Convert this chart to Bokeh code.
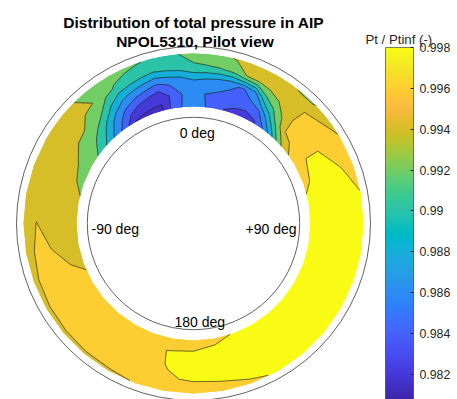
import numpy as np
from bokeh.plotting import figure
from bokeh.models import Range1d, ColorBar, LinearColorMapper, FixedTicker
from bokeh.core.properties import value
from bokeh.embed import file_html
from bokeh.resources import INLINE

# ---------------- data ----------------
# circumferential stations, degrees clockwise from top (pilot view)
theta_deg = [-180, -170, -160, -150, -140, -130, -120, -110, -100, -90, -80, -70,
             -60, -55, -50, -45, -40, -35, -30, -25, -20, -15, -10, -5,
             0, 5, 10, 15, 20, 25, 30, 35, 40, 45, 50, 55,
             60, 70, 80, 90, 100, 110, 120, 130, 140, 150, 160, 170]
# radial stations, r / R_casing
r_norm = [0.661, 0.734, 0.811, 0.887, 0.960]

pt_r1 = [0.99700, 0.99700, 0.99700, 0.99700, 0.99674, 0.99647, 0.99621, 0.99589, 0.99535, 0.99481, 0.99427, 0.99352,
         0.99257, 0.99210, 0.99077, 0.98889, 0.98691, 0.98489, 0.98200, 0.98150, 0.98138, 0.98182, 0.98467, 0.98623,
         0.98660, 0.98617, 0.98514, 0.98384, 0.98302, 0.98220, 0.98333, 0.98533, 0.98836, 0.99200, 0.99480, 0.99621,
         0.99674, 0.99779, 0.99817, 0.99838, 0.99859, 0.99880, 0.99865, 0.99851, 0.99836, 0.99822, 0.99807, 0.99767]
pt_r2 = [0.99820, 0.99806, 0.99777, 0.99738, 0.99700, 0.99669, 0.99638, 0.99606, 0.99566, 0.99523, 0.99481, 0.99438,
         0.99386, 0.99314, 0.99243, 0.99120, 0.98900, 0.98680, 0.98514, 0.98384, 0.98302, 0.98220, 0.98433, 0.98600,
         0.98660, 0.98600, 0.98569, 0.98538, 0.98526, 0.98541, 0.98583, 0.98920, 0.99286, 0.99600, 0.99667, 0.99733,
         0.99800, 0.99820, 0.99840, 0.99860, 0.99880, 0.99875, 0.99870, 0.99865, 0.99860, 0.99855, 0.99850, 0.99835]
pt_r3 = [0.99830, 0.99805, 0.99771, 0.99736, 0.99700, 0.99675, 0.99649, 0.99624, 0.99598, 0.99560, 0.99523, 0.99485,
         0.99447, 0.99428, 0.99409, 0.99338, 0.99213, 0.99000, 0.98833, 0.98740, 0.98665, 0.98590, 0.98645, 0.98700,
         0.98800, 0.98750, 0.98700, 0.98640, 0.98580, 0.98680, 0.99120, 0.99314, 0.99489, 0.99630, 0.99691, 0.99752,
         0.99802, 0.99822, 0.99841, 0.99861, 0.99880, 0.99900, 0.99890, 0.99880, 0.99870, 0.99860, 0.99850, 0.99840]
pt_r4 = [0.99810, 0.99791, 0.99700, 0.99690, 0.99680, 0.99670, 0.99660, 0.99641, 0.99621, 0.99602, 0.99569, 0.99534,
         0.99500, 0.99475, 0.99450, 0.99425, 0.99400, 0.99275, 0.99178, 0.99122, 0.99066, 0.99010, 0.99057, 0.99103,
         0.99165, 0.99180, 0.99192, 0.99240, 0.99408, 0.99446, 0.99485, 0.99523, 0.99562, 0.99600, 0.99648, 0.99695,
         0.99743, 0.99809, 0.99832, 0.99855, 0.99877, 0.99900, 0.99887, 0.99873, 0.99860, 0.99847, 0.99833, 0.99820]
pt_r5 = [0.99700, 0.99643, 0.99605, 0.99580, 0.99578, 0.99575, 0.99573, 0.99571, 0.99562, 0.99550, 0.99517, 0.99485,
         0.99452, 0.99436, 0.99420, 0.99403, 0.99366, 0.99323, 0.99280, 0.99247, 0.99213, 0.99181, 0.99150, 0.99200,
         0.99280, 0.99320, 0.99365, 0.99413, 0.99447, 0.99480, 0.99455, 0.99430, 0.99380, 0.99380, 0.99480, 0.99555,
         0.99622, 0.99733, 0.99809, 0.99833, 0.99856, 0.99880, 0.99863, 0.99845, 0.99828, 0.99810, 0.99783, 0.99740]

contour_levels = [0.982, 0.984, 0.986, 0.988, 0.990, 0.992, 0.994, 0.996, 0.998]
cbar_ticks = [0.982, 0.984, 0.986, 0.988, 0.99, 0.992, 0.994, 0.996, 0.998]
cbar_tick_labels = ["0.982", "0.984", "0.986", "0.988", "0.99", "0.992", "0.994", "0.996", "0.998"]
clim = (0.98077, 0.998)
hub_r = 0.6
casing_r = 1.0
title_lines = ["Distribution of total pressure in AIP", "NPOL5310, Pilot view"]
cbar_label = "Pt / Ptinf (-)"
angle_labels = ["0 deg", "-90 deg", "+90 deg", "180 deg"]

# ---------------- parula colormap ----------------
PARULA64 = [
    (0.2422, 0.1504, 0.6603), (0.2504, 0.1650, 0.7076), (0.2578, 0.1818, 0.7511), (0.2647, 0.1978, 0.7952),
    (0.2706, 0.2147, 0.8364), (0.2751, 0.2342, 0.8710), (0.2783, 0.2559, 0.8991), (0.2803, 0.2782, 0.9221),
    (0.2813, 0.3006, 0.9414), (0.2810, 0.3228, 0.9579), (0.2795, 0.3447, 0.9717), (0.2760, 0.3667, 0.9829),
    (0.2699, 0.3892, 0.9906), (0.2602, 0.4123, 0.9952), (0.2440, 0.4358, 0.9988), (0.2206, 0.4603, 0.9973),
    (0.1963, 0.4847, 0.9892), (0.1834, 0.5074, 0.9798), (0.1786, 0.5289, 0.9682), (0.1764, 0.5499, 0.9520),
    (0.1687, 0.5703, 0.9359), (0.1540, 0.5902, 0.9218), (0.1460, 0.6091, 0.9079), (0.1380, 0.6276, 0.8973),
    (0.1248, 0.6459, 0.8883), (0.1113, 0.6635, 0.8763), (0.0952, 0.6798, 0.8598), (0.0689, 0.6948, 0.8394),
    (0.0297, 0.7082, 0.8163), (0.0036, 0.7203, 0.7917), (0.0067, 0.7312, 0.7660), (0.0433, 0.7411, 0.7394),
    (0.0964, 0.7500, 0.7120), (0.1408, 0.7584, 0.6842), (0.1717, 0.7670, 0.6554), (0.1938, 0.7758, 0.6251),
    (0.2161, 0.7843, 0.5923), (0.2470, 0.7918, 0.5567), (0.2906, 0.7973, 0.5188), (0.3406, 0.8008, 0.4789),
    (0.3909, 0.8029, 0.4354), (0.4456, 0.8024, 0.3909), (0.5044, 0.7993, 0.3480), (0.5616, 0.7942, 0.3045),
    (0.6174, 0.7876, 0.2612), (0.6720, 0.7793, 0.2227), (0.7242, 0.7698, 0.1910), (0.7738, 0.7598, 0.1646),
    (0.8203, 0.7498, 0.1535), (0.8634, 0.7406, 0.1596), (0.9035, 0.7330, 0.1774), (0.9393, 0.7288, 0.2100),
    (0.9728, 0.7298, 0.2394), (0.9956, 0.7434, 0.2371), (0.9970, 0.7659, 0.2199), (0.9952, 0.7893, 0.2028),
    (0.9892, 0.8136, 0.1885), (0.9786, 0.8386, 0.1766), (0.9676, 0.8639, 0.1643), (0.9610, 0.8890, 0.1537),
    (0.9597, 0.9135, 0.1423), (0.9628, 0.9373, 0.1265), (0.9691, 0.9606, 0.1064), (0.9769, 0.9839, 0.0805)]
_p = np.array(PARULA64)
_s = np.linspace(0, 1, 64)
_t = np.linspace(0, 1, 256)
PARULA256 = np.stack([np.interp(_t, _s, _p[:, k]) for k in range(3)], axis=1)


def to_hex(rgb):
    return "#%02x%02x%02x" % tuple(int(round(c * 255)) for c in rgb)


palette = [to_hex(c) for c in PARULA256]


def cmap(v):
    f = (v - clim[0]) / (clim[1] - clim[0])
    i = int(np.clip(np.floor(f * 256), 0, 255))
    return palette[i]


# ---------------- grids ----------------
Z = np.array([pt_r1, pt_r2, pt_r3, pt_r4, pt_r5])
th = np.array(theta_deg, dtype=float)
R = np.array(r_norm)[:, None]


def ring_grid(th_deg, zz):
    """close the ring by repeating the first station one turn later"""
    t = np.deg2rad(np.concatenate([th_deg, th_deg[:1] + 360.0]))
    z = np.hstack([zz, zz[:, :1]])
    return R * np.sin(t)[None, :], R * np.cos(t)[None, :], z


# grid A: seam at the bottom (180 deg); grid B: same stations, seam at the top (0 deg)
XA, YA, ZA = ring_grid(th, Z)
order = np.argsort(np.where(th < 0, th + 360.0, th))
XB, YB, ZB = ring_grid(np.where(th < 0, th + 360.0, th)[order], Z[:, order])

zmin, zmax = float(Z.min()), float(Z.max())
fill_levels = [zmin - 1e-6] + contour_levels + [zmax + 1e-6]
fill_colors = [cmap(max(lo, zmin)) for lo in fill_levels[:-1]]

# ---------------- figure ----------------
W, H = 457, 399
SCALE = 177.0          # px per unit radius
CX, CY = 193.0, 223.0  # centre of the annulus, px


def X(px):
    return (px - CX) / SCALE


def Y(py):
    return (CY - py) / SCALE


p = figure(width=W, height=H, title=None, output_backend="svg", toolbar_location=None,
           x_range=Range1d(X(0), X(W)), y_range=Range1d(Y(H), Y(0)),
           x_axis_type=None, y_axis_type=None, min_border=0,
           outline_line_color=None, background_fill_color="white",
           border_fill_color="white")

# two fills with different seams hide the hairline where a ring is cut open
p.contour(XA, YA, ZA, fill_levels, fill_color=fill_colors, line_color=None)
p.contour(XB, YB, ZB, fill_levels, fill_color=fill_colors, line_color=None)
p.contour(XA, YA, ZA, contour_levels, line_color="#111111", line_width=0.6)

# hub and casing circles
p.circle(x=[0, 0], y=[0, 0], radius=[hub_r, casing_r], fill_color=None,
         line_color="#3a3a3a", line_width=0.8)

FONT = value("Liberation Sans")

# title
p.text(x=[X(193.3), X(194.5)], y=[Y(21.5), Y(41.0)], text=title_lines,
       text_font=FONT, text_font_size="15.5px", text_font_style="bold",
       text_align="center", text_baseline="alphabetic", text_color="#000000")

# angle annotations
p.text(x=[X(196.7), X(91.0), X(245.0), X(174.0)],
       y=[Y(132.7), Y(228.0), Y(228.0), Y(321.0)],
       text=angle_labels, text_font=FONT, text_font_size="14px",
       text_align=["center", "left", "left", "left"],
       text_baseline="alphabetic", text_color="#000000")

# colour-bar label
p.text(x=[X(365.0)], y=[Y(38.5)], text=[cbar_label], text_font=FONT,
       text_font_size="13.2px", text_align="left", text_baseline="alphabetic",
       text_color="#262626")

mapper = LinearColorMapper(palette=palette, low=clim[0], high=clim[1])
cb = ColorBar(color_mapper=mapper, location=(385, 0), width=28, height=352,
              padding=0, margin=0,
              ticker=FixedTicker(ticks=cbar_ticks),
              major_label_overrides={t: s for t, s in zip(cbar_ticks, cbar_tick_labels)},
              major_label_text_font="Liberation Sans", major_label_text_font_size="12.3px",
              major_label_text_color="#262626",
              major_tick_in=3, major_tick_out=0, major_tick_line_color="#262626",
              minor_tick_line_color=None,
              bar_line_color="#262626", bar_line_width=0.6,
              label_standoff=6, background_fill_alpha=0, border_line_color=None)
p.add_layout(cb)

open("out.html", "w").write(file_html(p, INLINE))
